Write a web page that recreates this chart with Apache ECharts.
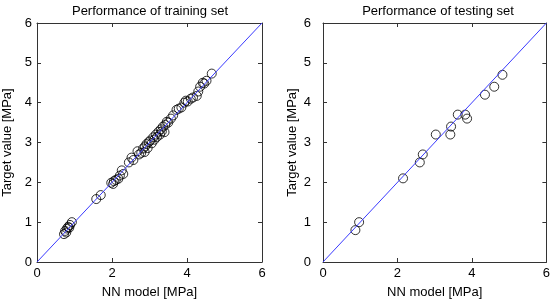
<!DOCTYPE html>
<html>
<head>
<meta charset="utf-8">
<script src="https://cdn.jsdelivr.net/npm/echarts@6/dist/echarts.min.js"></script>
<style>html,body{margin:0;padding:0;background:#fff}#c{width:553px;height:304px}</style>
</head>
<body>
<div id="c"></div>
<script>
const trainNN = [0.72,0.75,0.78,0.80,0.83,0.86,0.88,0.93,
  1.58,1.70,
  1.98,2.03,2.05,2.10,2.17,2.21,2.26,2.30,
  2.45,2.52,2.57,
  2.68,2.72,2.78,2.83,2.87,2.88,2.92,2.95,2.98,
  3.02,3.06,3.10,3.13,3.17,3.20,3.24,3.28,3.30,3.33,3.36,3.40,3.42,3.46,3.50,
  3.57,3.63,3.72,3.78,3.85,3.93,3.97,4.02,
  4.10,4.16,4.26,4.30,4.35,4.42,4.46,4.52,4.66];
const trainTarget = [0.70,0.78,0.74,0.84,0.88,0.86,0.93,1.00,
  1.58,1.68,
  1.99,1.96,2.03,2.06,2.09,2.17,2.30,2.21,
  2.50,2.62,2.56,
  2.78,2.70,2.74,2.85,2.76,2.90,2.96,2.86,3.01,
  3.05,2.98,3.13,3.07,3.20,3.14,3.27,3.20,3.33,3.28,3.40,3.26,3.44,3.52,3.50,
  3.60,3.68,3.82,3.85,3.88,4.00,4.05,4.03,
  4.10,4.13,4.17,4.28,4.40,4.50,4.48,4.55,4.73];
const testNN = [0.87,0.97,2.15,2.60,2.68,3.03,3.42,3.44,3.62,3.82,3.87,4.35,4.60,4.82];
const testTarget = [0.80,1.00,2.10,2.50,2.70,3.20,3.20,3.40,3.70,3.70,3.60,4.20,4.40,4.70];
const idealLine = [[0,0],[6,6]];
const titles = ['Performance of training set','Performance of testing set'];
const xName = 'NN model [MPa]';
const yName = 'Target value [MPa]';

const font = 'Liberation Sans, Arial, sans-serif';
const axisColor = '#333';
function xAxes(g){
  return [
    {gridIndex:g, type:'value', min:0, max:6, interval:2, position:'bottom',
     name:xName, nameLocation:'middle', nameGap:24,
     nameTextStyle:{color:'#000', fontSize:13, fontFamily:font},
     axisLine:{onZero:false, lineStyle:{color:axisColor, width:1}},
     axisTick:{inside:true, length:4, lineStyle:{color:axisColor}},
     axisLabel:{color:'#000', fontSize:13, fontFamily:font, margin:5},
     splitLine:{show:false}},
    {gridIndex:g, type:'value', min:0, max:6, interval:2, position:'top',
     axisLine:{onZero:false, lineStyle:{color:axisColor, width:1}},
     axisTick:{inside:true, length:4, lineStyle:{color:axisColor}},
     axisLabel:{show:false}, splitLine:{show:false}}
  ];
}
function yAxes(g, labelMargin, gap){
  return [
    {gridIndex:g, type:'value', min:0, max:6, interval:1, position:'left',
     name:yName, nameLocation:'middle', nameGap:gap,
     nameTextStyle:{color:'#000', fontSize:13, fontFamily:font},
     axisLine:{onZero:false, lineStyle:{color:axisColor, width:1}},
     axisTick:{inside:true, length:4, lineStyle:{color:axisColor}},
     axisLabel:{color:'#000', fontSize:13, fontFamily:font, margin:labelMargin},
     splitLine:{show:false}},
    {gridIndex:g, type:'value', min:0, max:6, interval:1, position:'right',
     axisLine:{onZero:false, lineStyle:{color:axisColor, width:1}},
     axisTick:{inside:true, length:4, lineStyle:{color:axisColor}},
     axisLabel:{show:false}, splitLine:{show:false}}
  ];
}
function pairs(a,b){ return a.map((v,i)=>[v,b[i]]); }
function scatter(xi, yi, data){
  return {type:'scatter', xAxisIndex:xi, yAxisIndex:yi, data:data, symbol:'circle', symbolSize:9,
    itemStyle:{color:'rgba(0,0,0,0)', borderColor:'#000', borderWidth:1}, z:3, silent:true};
}
function diag(xi, yi){
  return {type:'line', xAxisIndex:xi, yAxisIndex:yi, data:idealLine, symbol:'none',
    lineStyle:{color:'#3a3aff', width:1}, z:4, silent:true};
}

const chart = echarts.init(document.getElementById('c'), null, {renderer:'canvas'});
chart.setOption({
  animation:false,
  backgroundColor:'#fff',
  title:[
    {text:titles[0], left:145, top:0, textAlign:'center', textStyle:{fontSize:13, fontWeight:'normal', color:'#000', fontFamily:font}},
    {text:titles[1], left:433, top:0, textAlign:'center', textStyle:{fontSize:13, fontWeight:'normal', color:'#000', fontFamily:font}}
  ],
  grid:[
    {left:37, top:23, width:225, height:241, show:true, backgroundColor:'#fff', borderWidth:0},
    {left:323, top:23, width:226, height:242, show:true, backgroundColor:'#fff', borderWidth:0}
  ],
  xAxis: xAxes(0).concat(xAxes(1)),
  yAxis: yAxes(0, 5, 23).concat(yAxes(1, 12, 24)),
  series:[
    scatter(0, 0, pairs(trainNN, trainTarget)),
    diag(0, 0),
    scatter(2, 2, pairs(testNN, testTarget)),
    diag(2, 2)
  ]
});
</script>
</body>
</html>
